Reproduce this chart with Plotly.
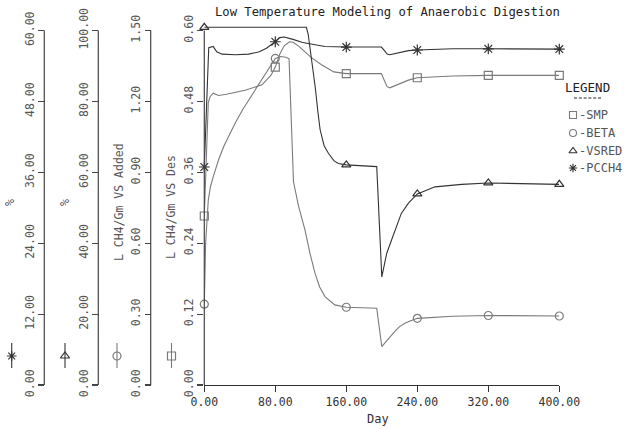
import plotly.graph_objects as go

W, H = 624, 429
MARK_DAYS = [0, 80, 160, 240, 320, 400]

# SMP (L CH4/Gm VS Des, 0-0.6)
SMP_DAY = [0, 4.5, 6.5, 10, 16, 25, 46, 65, 75, 80, 85, 90, 96, 100, 106, 113, 120, 132, 146, 160,
           199.5, 203, 206, 209, 215, 222, 230, 240, 280, 320, 400]
SMP = [0.286, 0.478, 0.488, 0.494, 0.490, 0.492, 0.499, 0.508, 0.524, 0.538, 0.560, 0.574, 0.581, 0.580,
       0.574, 0.564, 0.555, 0.542, 0.530, 0.527, 0.527, 0.515, 0.505, 0.503, 0.507, 0.512, 0.516, 0.520,
       0.523, 0.524, 0.524]

# BETA (L CH4/Gm VS Added, 0-1.5)
BETA_DAY = [0, 1.5, 4.5, 7, 10, 16, 22, 27, 35, 44, 50, 62, 72, 80, 86, 92, 95.5, 98.5, 100.5, 106,
            113.5, 119, 124.7, 130, 136, 147, 160, 194.3, 200, 204, 209, 215, 220, 226, 232, 240, 280,
            320, 400]
BETA = [0.342, 0.60, 0.783, 0.84, 0.881, 0.952, 1.01, 1.05, 1.11, 1.17, 1.205, 1.275, 1.33, 1.382,
        1.39, 1.387, 1.38, 1.10, 0.86, 0.76, 0.655, 0.558, 0.473, 0.415, 0.374, 0.339, 0.329, 0.325,
        0.162, 0.180, 0.204, 0.228, 0.247, 0.261, 0.271, 0.282, 0.291, 0.294, 0.292]

# VSRED (%, 0-100)
VSRED_DAY = [0, 115, 117, 119, 122, 125, 128, 130.5, 135, 140, 146, 151, 160, 194.3, 200, 203,
             205.5, 211, 217, 222, 230, 240, 260, 290, 320, 400]
VSRED = [100.9, 100.9, 99.0, 95.4, 90.0, 84.0, 77.0, 72.0, 67.5, 65.3, 63.3, 62.5, 62.1, 61.6, 30.5,
         34.0, 37.1, 40.9, 44.7, 48.4, 51.3, 53.9, 55.9, 56.6, 57.0, 56.6]

# PCCH4 (%, 0-60)
PCCH4_DAY = [0, 5, 10, 14, 20, 35, 50, 62, 70, 76, 80, 85, 90, 100, 110, 117, 136, 160, 199.5, 203,
             206, 209, 215, 222, 230, 240, 280, 320, 400]
PCCH4 = [36.9, 57.1, 57.3, 56.4, 56.0, 55.9, 56.0, 56.4, 57.0, 57.6, 58.1, 58.8, 58.9, 58.5, 58.0,
         57.8, 57.3, 57.2, 57.2, 56.6, 56.0, 55.9, 56.1, 56.4, 56.6, 56.7, 56.9, 56.9, 56.85]

X_TICKS = [0, 80, 160, 240, 320, 400]
SMP_TICKS = [0, 0.12, 0.24, 0.36, 0.48, 0.60]
BETA_TICKS = [0, 0.30, 0.60, 0.90, 1.20, 1.50]
VSRED_TICKS = [0, 20, 40, 60, 80, 100]
PCCH4_TICKS = [0, 12, 24, 36, 48, 60]

DARK = "#333333"
GRAY = "#7a7a7a"
FONT = "DejaVu Sans Mono"

# geometry (pixels)
X0, X1 = 204.3, 559.3
YB, YT_TICK, YT_DOM = 385.0, 30.5, 22.0
ext = (YB - YT_DOM) / (YB - YT_TICK)
pos_main, pos_beta, pos_vs, pos_pc = X0, 150.7, 98.3, 44.3


def marks(days, vals):
    d, v = [], []
    for dd, vv in zip(days, vals):
        if dd in MARK_DAYS:
            d.append(dd)
            v.append(vv)
    return d, v


fig = go.Figure()
series = [
    (SMP_DAY, SMP, "y", GRAY, "square-open", 8),
    (BETA_DAY, BETA, "y2", GRAY, "circle-open", 8),
    (VSRED_DAY, VSRED, "y3", DARK, "triangle-up-open", 8),
    (PCCH4_DAY, PCCH4, "y4", DARK, "asterisk-open", 9),
]
for days, vals, ya, col, sym, sz in series:
    fig.add_trace(go.Scatter(x=days, y=vals, yaxis=ya, mode="lines",
                             line=dict(color=col, width=1.1), showlegend=False, hoverinfo="skip"))
    md, mv = marks(days, vals)
    fig.add_trace(go.Scatter(x=md, y=mv, yaxis=ya, mode="markers", cliponaxis=False,
                             marker=dict(symbol=sym, size=sz, color=col, line=dict(color=col, width=1.2)),
                             showlegend=False, hoverinfo="skip"))

# legend glyphs (overlay pixel-space axes)
LEFT_GLYPH_X = [11.7, 65.0, 117.0, 171.5]
LEFT_GLYPH_SYM = ["asterisk-open", "triangle-up-open", "circle-open", "square-open"]
LEFT_GLYPH_COL = [DARK, DARK, GRAY, GRAY]
for gx, gs, gc in zip(LEFT_GLYPH_X, LEFT_GLYPH_SYM, LEFT_GLYPH_COL):
    fig.add_trace(go.Scatter(x=[gx, gx], y=[343, 368], xaxis="x2", yaxis="y5", mode="lines",
                             line=dict(color=gc, width=1.1), showlegend=False, hoverinfo="skip"))
    fig.add_trace(go.Scatter(x=[gx], y=[356], xaxis="x2", yaxis="y5", mode="markers",
                             marker=dict(symbol=gs, size=8, color=gc, line=dict(color=gc, width=1.2)),
                             showlegend=False, hoverinfo="skip"))

LEG_NAMES = ["-SMP", "-BETA", "-VSRED", "-PCCH4"]
LEG_SYM = ["square-open", "circle-open", "triangle-up-open", "asterisk-open"]
LEG_COL = [GRAY, GRAY, DARK, DARK]
LEG_Y = [115, 133, 151, 168]
fig.add_trace(go.Scatter(x=[573] * 4, y=LEG_Y, xaxis="x2", yaxis="y5", mode="markers",
                         marker=dict(symbol=LEG_SYM, size=7, color=LEG_COL,
                                     line=dict(color=LEG_COL, width=1.1)),
                         showlegend=False, hoverinfo="skip"))

annotations = []
for name, ly in zip(LEG_NAMES, LEG_Y):
    annotations.append(dict(x=577, y=ly, xref="x2", yref="y5", text=name, showarrow=False,
                            xanchor="left", yanchor="middle", font=dict(family=FONT, size=12, color="#555")))
annotations.append(dict(x=587, y=87, xref="x2", yref="y5", text="LEGEND", showarrow=False,
                        xanchor="center", yanchor="middle", font=dict(family=FONT, size=12.5, color="#222")))
annotations.append(dict(x=387.3, y=12, xref="x2", yref="y5",
                        text="Low Temperature Modeling of Anaerobic Digestion", showarrow=False,
                        xanchor="center", yanchor="middle", font=dict(family=FONT, size=12.2, color="#222")))
annotations.append(dict(x=378, y=419, xref="x2", yref="y5", text="Day", showarrow=False,
                        xanchor="center", yanchor="middle", font=dict(family=FONT, size=12, color="#333")))
for tx, ty, tt in [(10, 203, "%"), (65, 203, "%"), (119, 202, "L CH4/Gm VS Added"),
                   (171, 207, "L CH4/Gm VS Des")]:
    annotations.append(dict(x=tx, y=ty, xref="x2", yref="y5", text=tt, showarrow=False, textangle=-90,
                            xanchor="center", yanchor="middle", font=dict(family=FONT, size=11.5, color="#555")))

shapes = []
for p in [pos_main, pos_beta, pos_vs, pos_pc]:
    shapes.append(dict(type="line", xref="x2", yref="y5", x0=p, x1=p, y0=YB, y1=YT_TICK,
                       line=dict(color="#444", width=1.2)))
# dashed underline below "LEGEND"
shapes.append(dict(type="line", xref="x2", yref="y5", x0=574, x1=601, y0=98, y1=98,
                   line=dict(color="#222", width=1, dash="3px,1.8px")))

dom_y = [(H - YB) / H, (H - YT_DOM) / H]


def yax(rng_top, ticks, pos=None):
    d = dict(range=[0, rng_top * ext], tickvals=ticks, ticktext=[f"{t:.2f}" for t in ticks],
             ticks="outside", ticklen=6, tickcolor="#444", tickwidth=1.2, showline=False,
             showgrid=False, zeroline=False, tickangle=-90, domain=dom_y, automargin=False,
             tickfont=dict(family=FONT, size=11.5, color="#555"), fixedrange=True)
    if pos is not None:
        d.update(anchor="free", overlaying="y", position=pos / W, side="left")
    return d


fig.update_layout(
    width=W, height=H, autosize=False,
    margin=dict(l=0, r=0, t=0, b=0, pad=0, autoexpand=False),
    paper_bgcolor="white", plot_bgcolor="rgba(0,0,0,0)",
    hovermode=False,
    xaxis=dict(domain=[X0 / W, X1 / W], range=[0, 400], tickvals=X_TICKS,
               ticktext=[f"{t:.2f}" for t in X_TICKS], ticks="outside", ticklen=6, tickcolor="#333",
               tickwidth=1.2, showline=True, linecolor="#333", linewidth=1.2, showgrid=False,
               zeroline=False, anchor="y", automargin=False, fixedrange=True,
               tickfont=dict(family=FONT, size=11.5, color="#333")),
    yaxis=yax(0.6, SMP_TICKS),
    yaxis2=yax(1.5, BETA_TICKS, pos_beta),
    yaxis3=yax(100, VSRED_TICKS, pos_vs),
    yaxis4=yax(60, PCCH4_TICKS, pos_pc),
    xaxis2=dict(domain=[0, 1], range=[0, W], visible=False, anchor="y5", fixedrange=True),
    yaxis5=dict(domain=[0, 1], range=[H, 0], visible=False, anchor="x2", fixedrange=True),
    annotations=annotations,
    shapes=shapes,
)

fig.write_html("out.html", config={"displayModeBar": False, "staticPlot": True},
               post_script="document.body.style.margin='0';document.body.style.overflow='hidden';")
